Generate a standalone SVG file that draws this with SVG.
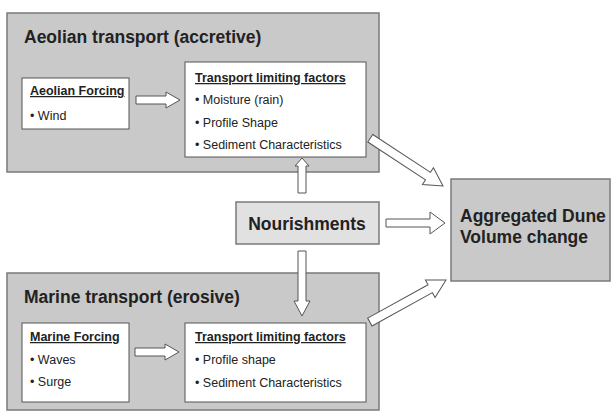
<svg xmlns="http://www.w3.org/2000/svg" width="611" height="412" viewBox="0 0 611 412">
<style>
.panel{fill:#c9c9c9;stroke:#7a7a7a;stroke-width:1.5}
.light{fill:#e1e1e1;stroke:#7a7a7a;stroke-width:1.5}
.box{fill:#fff;stroke:#555;stroke-width:1}
.arrow{fill:#fff;stroke:#555;stroke-width:1}
text{font-family:"Liberation Sans",Arial,sans-serif;fill:#222}
.title{font-size:17.5px;font-weight:bold}
.head{font-size:12.5px;font-weight:bold;text-decoration:underline}
.item{font-size:12.5px}
</style>
<g id="aeolian">
<rect class="panel" x="7" y="13" width="372" height="159"/>
<text class="title" x="24" y="43">Aeolian transport (accretive)</text>
</g>
<g id="aeolian-forcing">
<rect class="box" x="22" y="78" width="107" height="51"/>
<text class="head" x="30" y="95">Aeolian Forcing</text>
<text class="item" x="30" y="120">• Wind</text>
</g>
<g id="aeolian-limits">
<rect class="box" x="185" y="62" width="181" height="95"/>
<text class="head" x="195" y="82">Transport limiting factors</text>
<text class="item" x="195" y="104">• Moisture (rain)</text>
<text class="item" x="195" y="127">• Profile Shape</text>
<text class="item" x="195" y="149">• Sediment Characteristics</text>
</g>
<g id="marine">
<rect class="panel" x="7" y="273" width="372" height="137"/>
<text class="title" x="24" y="303">Marine transport (erosive)</text>
</g>
<g id="marine-forcing">
<rect class="box" x="22" y="323" width="107" height="79"/>
<text class="head" x="30" y="341">Marine Forcing</text>
<text class="item" x="30" y="364">• Waves</text>
<text class="item" x="30" y="386">• Surge</text>
</g>
<g id="marine-limits">
<rect class="box" x="185" y="323" width="181" height="79"/>
<text class="head" x="195" y="341">Transport limiting factors</text>
<text class="item" x="195" y="364">• Profile shape</text>
<text class="item" x="195" y="387">•  Sediment Characteristics</text>
</g>
<g id="nourishments">
<rect class="light" x="236" y="202" width="143" height="42"/>
<text class="title" x="307" y="230" text-anchor="middle">Nourishments</text>
</g>
<g id="aggregated">
<rect class="panel" x="451" y="179" width="159" height="102"/>
<text class="title" x="460" y="222">Aggregated Dune</text>
<text class="title" x="460" y="243">Volume change</text>
</g>
<g id="connectors">
<polygon class="arrow" points="136,96 166,96 166,92 180,100 166,108 166,104 136,104"/>
<polygon class="arrow" points="135,348 165,348 165,344 179,352 165,360 165,356 135,356"/>
<polygon class="arrow" points="298,193 298,166 295,166 302,158 309,166 306,166 306,193"/>
<polygon class="arrow" points="298,251 298,301 294,301 302,316 310,301 306,301 306,251"/>
<polygon class="arrow" points="386,219 430,219 430,212 445,223 430,234 430,227 386,227"/>
<polygon class="arrow" transform="translate(443,186) rotate(33.3)" points="-87,-4.5 -18,-4.5 -18,-10 0,0 -18,10 -18,4.5 -87,4.5"/>
<polygon class="arrow" transform="translate(446,280) rotate(-28.9)" points="-87,-4.5 -18,-4.5 -18,-10 0,0 -18,10 -18,4.5 -87,4.5"/>
</g>
</svg>
